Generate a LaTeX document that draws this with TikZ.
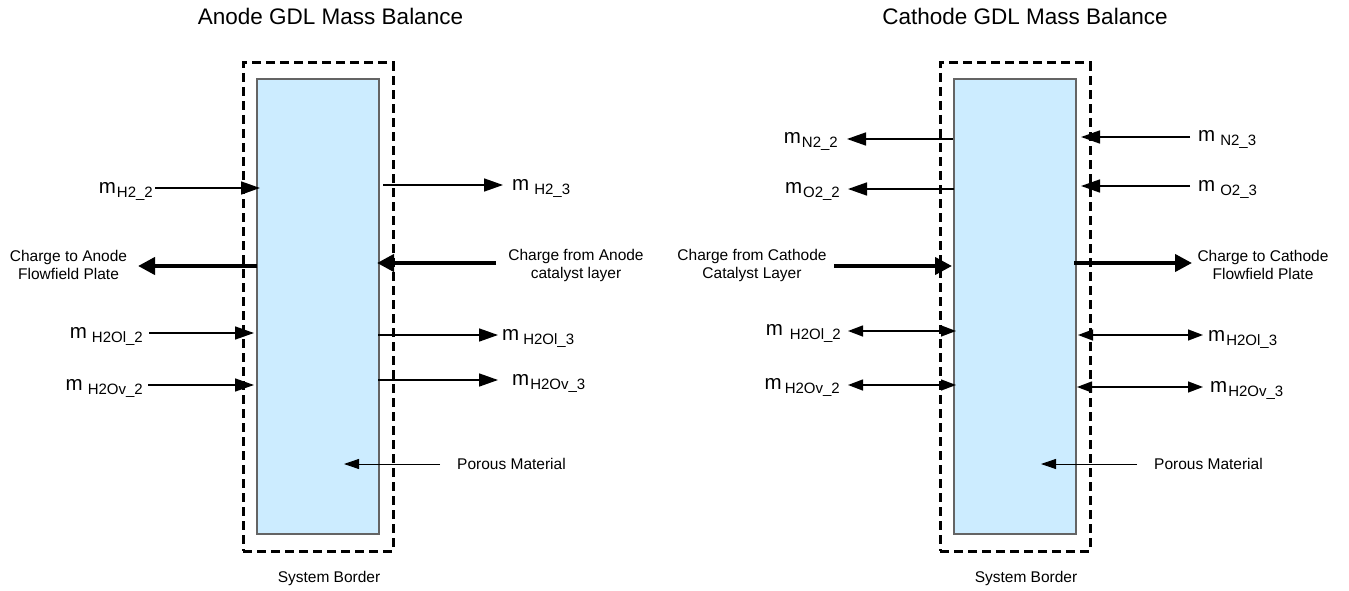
\documentclass[tikz,border=0pt]{standalone}
\usepackage{fontspec}
\setmainfont{Liberation Sans}
\usetikzlibrary{arrows.meta}

\definecolor{gdlblue}{RGB}{204,236,255}
\definecolor{gdledge}{RGB}{100,100,100}

% mass flow label: "m" with a lowered index, #1 = gap between them
\newcommand\mflow[2]{{\fontsize{20.5}{24}\selectfont m}\hspace{#1}\raisebox{-4pt}{\fontsize{15}{18}\selectfont #2}}

\begin{document}
\begin{tikzpicture}[x=1pt,y=-1pt,
  gdl/.style={draw=gdledge, line width=1.1pt, fill=gdlblue, minimum width=122pt, minimum height=455pt, inner sep=0pt},
  sysborder/.style={draw, line width=3pt, dash pattern=on 9pt off 5pt, minimum width=150pt, minimum height=488pt, inner sep=0pt},
  flow/.style={line width=1.6pt, -{Triangle[length=19pt,width=13pt]}},
  charge/.style={line width=4pt, -{Triangle[length=17pt,width=17pt]}},
  exch/.style={line width=1.4pt, {Triangle[length=15pt,width=11pt]}-{Triangle[length=15pt,width=11pt]}},
  pointer/.style={line width=0.9pt, -{Triangle[length=15pt,width=10pt]}},
  chg/.style={font=\fontsize{15.5}{18}\selectfont, align=center, inner sep=0pt},
  lbl/.style={font=\fontsize{15.5}{18}\selectfont, inner sep=0pt},
  heading/.style={font=\fontsize{22.5}{27}\selectfont, inner sep=0pt},
  mlbl/.style={inner sep=0pt}
]
\useasboundingbox (0,0) rectangle (1349,591);

% ---------------- Anode GDL ----------------
\node[heading, anchor=base] (atitle) at (330.5,25) {Anode GDL Mass Balance};
\node[gdl] (abox) at (318,306.5) {};
\node[sysborder] (aborder) at (318,307) {};
\node[lbl] (aborderlbl) at (329,578) {System Border};

% inflow/outflow endpoints
\coordinate (ah2in) at (155,188);   \coordinate (ah2inT) at (260,188);
\coordinate (achgS) at (257,266);   \coordinate (achgT) at (138,266);
\coordinate (aliqin) at (149,333);  \coordinate (aliqinT) at (254,333);
\coordinate (avapin) at (148,385);  \coordinate (avapinT) at (254,385);
\coordinate (ah2out) at (383,185);  \coordinate (ah2outT) at (503,185);
\coordinate (acatS) at (496,263);   \coordinate (acatT) at (377,263);
\coordinate (aliqout) at (378,335); \coordinate (aliqoutT) at (498,335);
\coordinate (avapout) at (378,380); \coordinate (avapoutT) at (498,380);
\coordinate (aporS) at (440,464);   \coordinate (aporT) at (344,464);

\draw[flow] (ah2in) -- (ah2inT);
\draw[charge] (achgS) -- (achgT);
\draw[flow] (aliqin) -- (aliqinT);
\draw[flow] (avapin) -- (avapinT);
\draw[flow] (ah2out) -- (ah2outT);
\draw[charge] (acatS) -- (acatT);
\draw[flow] (aliqout) -- (aliqoutT);
\draw[flow] (avapout) -- (avapoutT);
\draw[pointer] (aporS) -- (aporT);

\node[mlbl, anchor=base east] (la1) at (153,193) {\mflow{1pt}{H2\_2}};
\node[mlbl, anchor=base east] (la2) at (143,338) {\mflow{5pt}{H2Ol\_2}};
\node[mlbl, anchor=base east] (la3) at (143,390) {\mflow{5pt}{H2Ov\_2}};
\node[mlbl, anchor=base west] (la4) at (512,190) {\mflow{5pt}{H2\_3}};
\node[mlbl, anchor=base west] (la5) at (502,340) {\mflow{4pt}{H2Ol\_3}};
\node[mlbl, anchor=base west] (la6) at (512,385) {\mflow{1pt}{H2Ov\_3}};
\node[chg] (lachg) at (68.5,265) {Charge to Anode\\Flowfield Plate};
\node[chg] (lacat) at (576,265) {Charge from Anode\\catalyst layer};
\node[lbl, anchor=west] (lapor) at (457,464) {Porous Material};

% ---------------- Cathode GDL ----------------
\node[heading, anchor=base] (ctitle) at (1025,25) {Cathode GDL Mass Balance};
\node[gdl] (cbox) at (1015,306.5) {};
\node[sysborder] (cborder) at (1015,307) {};
\node[lbl] (cborderlbl) at (1026,578) {System Border};

\coordinate (cn2S) at (953,139);    \coordinate (cn2T) at (847,139);
\coordinate (co2S) at (954,189);    \coordinate (co2T) at (848,189);
\coordinate (ccatS) at (834,266);   \coordinate (ccatT) at (952,266);
\coordinate (cliqL) at (848,331);   \coordinate (cliqR) at (956,331);
\coordinate (cvapL) at (848,385);   \coordinate (cvapR) at (956,385);
\coordinate (cn2oS) at (1190,137);  \coordinate (cn2oT) at (1081,137);
\coordinate (co2oS) at (1190,186);  \coordinate (co2oT) at (1081,186);
\coordinate (cchgS) at (1074,263);  \coordinate (cchgT) at (1192,263);
\coordinate (cliqoL) at (1078,335); \coordinate (cliqoR) at (1203,335);
\coordinate (cvapoL) at (1077,387); \coordinate (cvapoR) at (1203,387);
\coordinate (cporS) at (1137,464);  \coordinate (cporT) at (1041,464);

\draw[flow] (cn2S) -- (cn2T);
\draw[flow] (co2S) -- (co2T);
\draw[charge] (ccatS) -- (ccatT);
\draw[exch] (cliqL) -- (cliqR);
\draw[exch] (cvapL) -- (cvapR);
\draw[flow] (cn2oS) -- (cn2oT);
\draw[flow] (co2oS) -- (co2oT);
\draw[charge] (cchgS) -- (cchgT);
\draw[exch] (cliqoL) -- (cliqoR);
\draw[exch] (cvapoL) -- (cvapoR);
\draw[pointer] (cporS) -- (cporT);

\node[mlbl, anchor=base east] (lc1) at (838,143) {\mflow{1pt}{N2\_2}};
\node[mlbl, anchor=base east] (lc2) at (840,193) {\mflow{1pt}{O2\_2}};
\node[mlbl, anchor=base east] (lc3) at (841,335) {\mflow{7pt}{H2Ol\_2}};
\node[mlbl, anchor=base east] (lc4) at (840,389) {\mflow{3pt}{H2Ov\_2}};
\node[mlbl, anchor=base west] (lc5) at (1198,142) {\mflow{5pt}{N2\_3}};
\node[mlbl, anchor=base west] (lc6) at (1198,191) {\mflow{5pt}{O2\_3}};
\node[mlbl, anchor=base west] (lc7) at (1208,341) {\mflow{1pt}{H2Ol\_3}};
\node[mlbl, anchor=base west] (lc8) at (1210,392) {\mflow{1pt}{H2Ov\_3}};
\node[chg] (lccat) at (752,265) {Charge from Cathode\\Catalyst Layer};
\node[chg] (lcchg) at (1263,265) {Charge to Cathode\\Flowfield Plate};
\node[lbl, anchor=west] (lcpor) at (1154,464) {Porous Material};
\end{tikzpicture}
\end{document}
